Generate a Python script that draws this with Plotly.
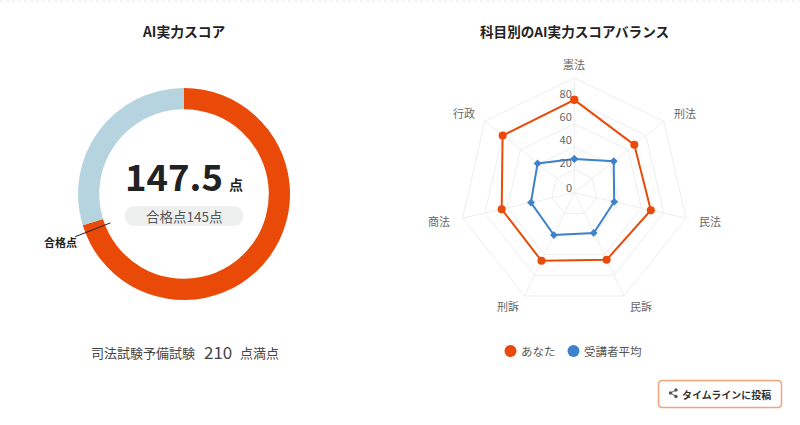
import math
import re
import plotly.graph_objects as go

W, H = 800, 425
FONT = "Noto Sans CJK JP"
ORANGE = "#ea4a07"
BLUE = "#3f82cc"
LIGHT = "#b5d4e0"

# data
score = 147.5
pass_mark = 145
full_mark = 210
subjects = ["憲法", "刑法", "民法", "民訴", "刑訴", "商法", "行政"]
you = [81, 67, 68.5, 65, 66, 65, 80]
average = [29.5, 44, 35.7, 39, 41, 38.8, 41]
radial_ticks = [0, 20, 40, 60, 80]
series_names = ["あなた", "受講者平均"]


def px(x):
    return x / W


def py(y):
    return 1 - y / H


def rrect(x0, y0, x1, y1, r):
    return (f"M{x0+r},{y0} L{x1-r},{y0} Q{x1},{y0} {x1},{y0+r} L{x1},{y1-r} Q{x1},{y1} {x1-r},{y1} "
            f"L{x0+r},{y1} Q{x0},{y1} {x0},{y1-r} L{x0},{y0+r} Q{x0},{y0} {x0+r},{y0} Z")


fig = go.Figure()

# donut
dcx, dcy, dr = 184, 194, 106
fig.add_trace(go.Pie(
    values=[score, full_mark - score], sort=False, direction="clockwise", rotation=0,
    hole=0.8, textinfo="none", hoverinfo="skip", showlegend=False,
    marker=dict(colors=[ORANGE, LIGHT], line=dict(width=0)),
    domain=dict(x=[px(dcx - dr), px(dcx + dr)], y=[py(dcy + dr), py(dcy - dr)]),
))

# radar
rcx, rcy, rr = 574.3, 192.7, 114.6
fig.add_trace(go.Scatterpolar(
    r=you + you[:1], theta=subjects + subjects[:1], mode="lines+markers", showlegend=False, name=series_names[0],
    line=dict(color=ORANGE, width=2), marker=dict(color=ORANGE, size=8, symbol="circle")))
fig.add_trace(go.Scatterpolar(
    r=average + average[:1], theta=subjects + subjects[:1], mode="lines+markers", showlegend=False, name=series_names[1],
    line=dict(color=BLUE, width=2), marker=dict(color=BLUE, size=6, symbol="diamond")))
fig.add_trace(go.Scatterpolar(
    r=radial_ticks[1:], theta=[subjects[0]] * (len(radial_ticks) - 1), mode="text", cliponaxis=False,
    text=[f"{t}\u00a0" for t in radial_ticks[1:]], textposition="top left", showlegend=False,
    textfont=dict(family=FONT, size=11, color="#666666"), hoverinfo="skip"))

fig.update_layout(
    width=W, height=H, margin=dict(l=0, r=0, t=0, b=0), paper_bgcolor="white", plot_bgcolor="white",
    font=dict(family=FONT, color="#555555"), showlegend=False,
    polar=dict(
        domain=dict(x=[px(rcx - rr), px(rcx + rr)], y=[py(rcy + rr), py(rcy - rr)]),
        gridshape="linear", bgcolor="white",
        radialaxis=dict(range=[0, 100], tickvals=[0, 20, 40, 60, 80, 100], showticklabels=False, ticks="",
                        gridcolor="#eeeeee", gridwidth=1, showline=False, angle=90),
        angularaxis=dict(direction="clockwise", rotation=90, gridcolor="#eeeeee", linecolor="#eeeeee",
                         ticks="", showticklabels=False),
    ),
)


def note(x, y, text, size, color="#333333", bold=False, anchor="center"):
    fig.add_annotation(xref="paper", yref="paper", x=px(x), y=py(y), text=f"<b>{text}</b>" if bold else text,
                       showarrow=False, xanchor=anchor, yanchor="middle",
                       font=dict(family=FONT, size=size, color=color), borderpad=0)


note(184, 31, "AI実力スコア", 13.8, "#222222", True)
note(574, 31, "科目別のAI実力スコアバランス", 13.6, "#222222", True)
note(224, 175.5, f"{score}", 36.5, "#222222", True, "right")
note(228, 184, "点", 14, "#222222", True, "left")
note(184, 216, f"合格点{pass_mark}点", 13.5, "#555555")
note(78, 242, "合格点", 11, "#222222", True, "right")
note(196, 352, "司法試験予備試験", 13, "#444444", False, "right")
note(203, 351, f"{full_mark}", 17, "#444444", False, "left")
note(239, 352, "点満点", 13, "#444444", False, "left")
note(680.5, 394, "タイムラインに投稿", 10, "#333333", True, "left")
note(519.5, 351, series_names[0], 11.5, "#555555", False, "left")
note(583, 351, series_names[1], 11.5, "#555555", False, "left")
note(568.7, 187, str(radial_ticks[0]), 11, "#666666")

subject_label_pos = [(574, 64), (685, 113), (710, 221), (641, 306), (508, 306), (439, 221), (464, 113)]
for name, (lx, ly) in zip(subjects, subject_label_pos):
    note(lx, ly, name, 11, "#666666")

shapes = [
    dict(type="line", x0=0, x1=800, y0=1, y1=1, line=dict(color="#e8e8e8", width=1, dash="dot")),
    dict(type="path", path=rrect(125, 206, 243, 226, 10), fillcolor="#eef0f0", line=dict(width=0), layer="below"),
    dict(type="path", path=rrect(658.5, 380.5, 781.5, 407.5, 4), fillcolor="white",
         line=dict(color="#f2a47c", width=1.5), layer="below"),
    dict(type="circle", x0=504.5, x1=516.5, y0=345, y1=357, fillcolor=ORANGE, line=dict(width=0)),
    dict(type="circle", x0=567.5, x1=579.5, y0=345, y1=357, fillcolor=BLUE, line=dict(width=0)),
]
a = pass_mark / full_mark * 2 * math.pi
sx, sy = math.sin(a), -math.cos(a)
shapes.append(dict(type="line", x0=dcx + 79 * sx, y0=dcy + 79 * sy, x1=dcx + 117 * sx, y1=dcy + 117 * sy,
                   line=dict(color="#222222", width=1)))
# share icon
ico = [(676, 390), (670.5, 393), (676, 396.5)]
shapes.append(dict(type="path", path=f"M{ico[0][0]},{ico[0][1]} L{ico[1][0]},{ico[1][1]} L{ico[2][0]},{ico[2][1]}",
                   line=dict(color="#555555", width=1)))
for cx, cy in ico:
    shapes.append(dict(type="circle", x0=cx - 1.7, x1=cx + 1.7, y0=cy - 1.7, y1=cy + 1.7,
                       fillcolor="#555555", line=dict(width=0)))


def conv(m):
    return f"{px(float(m.group(1)))},{py(float(m.group(2)))}"


for s in shapes:
    s.update(xref="paper", yref="paper")
    if s["type"] == "path":
        s["path"] = re.sub(r"(-?[\d.]+),(-?[\d.]+)", conv, s["path"])
    else:
        s["x0"], s["x1"] = px(s["x0"]), px(s["x1"])
        s["y0"], s["y1"] = py(s["y0"]), py(s["y1"])
fig.update_layout(shapes=shapes)

fig.write_html("out.html", config={"displayModeBar": False},
               post_script="document.body.style.margin='0';document.body.style.overflow='hidden';")
